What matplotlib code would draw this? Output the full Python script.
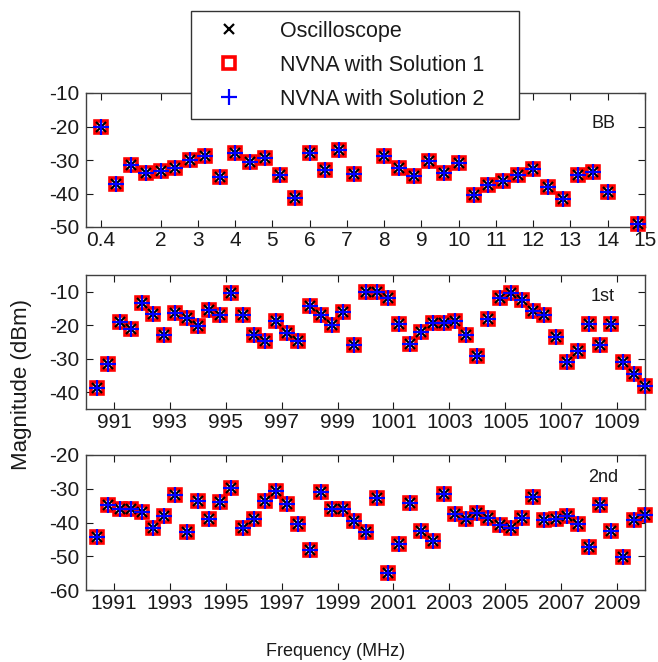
"""
Magnitude of BB / 1st / 2nd harmonic tones: oscilloscope vs NVNA (two solutions).
Output: out.png
"""

import matplotlib
matplotlib.use("Agg")
import matplotlib.pyplot as plt

# ---------- data ----------------------------------------------------------
bb_freq = [0.4, 0.8, 1.2, 1.6, 2.0, 2.4, 2.8, 3.2, 3.6, 4.0, 4.4, 4.8,
           5.2, 5.6, 6.0, 6.4, 6.8, 7.2, 8.0, 8.4, 8.8, 9.2, 9.6, 10.0,
           10.4, 10.8, 11.2, 11.6, 12.0, 12.4, 12.8, 13.2, 13.6, 14.0, 14.8]
bb_db = [-20.0, -37.3, -31.4, -33.9, -33.3, -32.3, -29.9, -28.9, -35.1,
         -27.9, -30.6, -29.4, -34.4, -41.2, -27.9, -32.9, -27.1, -34.3,
         -28.9, -32.3, -34.9, -30.4, -33.9, -30.9, -40.5, -37.4, -36.4,
         -34.4, -32.6, -38.1, -41.5, -34.4, -33.6, -39.6, -49.2]

h1_freq = [990.4, 990.8, 991.2, 991.6, 992.0, 992.4, 992.8, 993.2, 993.6,
           994.0, 994.4, 994.8, 995.2, 995.6, 996.0, 996.4, 996.8, 997.2,
           997.6, 998.0, 998.4, 998.8, 999.2, 999.6, 1000.0, 1000.4,
           1000.8, 1001.2, 1001.6, 1002.0, 1002.4, 1002.8, 1003.2, 1003.6,
           1004.0, 1004.4, 1004.8, 1005.2, 1005.6, 1006.0, 1006.4, 1006.8,
           1007.2, 1007.6, 1008.0, 1008.4, 1008.8, 1009.2, 1009.6, 1010.0]
h1_db = [-38.6, -31.5, -19.0, -21.0, -13.5, -16.5, -23.0, -16.2, -17.8,
         -20.2, -15.5, -17.0, -10.3, -16.8, -23.0, -24.8, -18.8, -22.2,
         -24.8, -14.2, -17.0, -19.8, -16.0, -25.8, -10.0, -10.0, -12.0,
         -19.5, -25.5, -22.0, -19.3, -19.3, -18.7, -22.8, -29.2, -18.0,
         -12.0, -10.3, -12.5, -15.8, -16.8, -23.5, -30.9, -27.7, -19.5,
         -25.8, -19.7, -31.1, -34.7, -38.2]

h2_freq = [1990.4, 1990.8, 1991.2, 1991.6, 1992.0, 1992.4, 1992.8, 1993.2,
           1993.6, 1994.0, 1994.4, 1994.8, 1995.2, 1995.6, 1996.0, 1996.4,
           1996.8, 1997.2, 1997.6, 1998.0, 1998.4, 1998.8, 1999.2, 1999.6,
           2000.0, 2000.4, 2000.8, 2001.2, 2001.6, 2002.0, 2002.4, 2002.8,
           2003.2, 2003.6, 2004.0, 2004.4, 2004.8, 2005.2, 2005.6, 2006.0,
           2006.4, 2006.8, 2007.2, 2007.6, 2008.0, 2008.4, 2008.8, 2009.2,
           2009.6, 2010.0]
h2_db = [-44.3, -34.7, -35.9, -35.9, -36.9, -41.6, -38.2, -31.8, -42.8,
         -33.5, -38.9, -33.8, -29.7, -41.5, -39.1, -33.5, -30.8, -34.5,
         -40.4, -48.2, -31.0, -36.1, -35.9, -39.7, -42.8, -32.8, -55.1,
         -46.3, -34.2, -42.6, -45.6, -31.5, -37.4, -38.9, -37.1, -38.7,
         -40.6, -41.6, -38.7, -32.5, -39.4, -39.1, -38.1, -40.4, -47.2,
         -34.7, -42.6, -50.2, -39.4, -37.7]

# the three measurements overlap at this scale
bb_sol1, bb_sol2 = bb_db, bb_db
h1_sol1, h1_sol2 = h1_db, h1_db
h2_sol1, h2_sol2 = h2_db, h2_db

bb_xticks = [0.4, 2, 3, 4, 5, 6, 7, 8, 9, 10, 11, 12, 13, 14, 15]
bb_xticklabels = ["0.4", "2", "3", "4", "5", "6", "7", "8", "9", "10",
                  "11", "12", "13", "14", "15"]
h1_xticks = [991, 993, 995, 997, 999, 1001, 1003, 1005, 1007, 1009]
h2_xticks = [1991, 1993, 1995, 1997, 1999, 2001, 2003, 2005, 2007, 2009]

# ---------- style ---------------------------------------------------------
TXT = "#1a1a1a"
FS = 15
plt.rcParams.update({"font.family": ["Liberation Sans", "DejaVu Sans"],
                     "font.size": FS, "text.color": TXT,
                     "axes.unicode_minus": False,
                     "axes.edgecolor": "0.25", "axes.linewidth": 1.0,
                     "xtick.color": TXT, "ytick.color": TXT,
                     "xtick.direction": "in", "ytick.direction": "in",
                     "xtick.top": True, "ytick.right": True,
                     "xtick.major.size": 5, "ytick.major.size": 5,
                     "xtick.major.pad": 3, "ytick.major.pad": 5})

W, H = 658, 662
fig = plt.figure(figsize=(W / 100, H / 100), dpi=100)

def ax_at(top_px, bot_px):
    return fig.add_axes([86 / W, 1 - bot_px / H, (645 - 86) / W,
                         (bot_px - top_px) / H])

ax1 = ax_at(93, 227)
ax2 = ax_at(275, 409)
ax3 = ax_at(455, 590)

def draw(ax, f, osc, s1, s2):
    ax.plot(f, s1, ls="none", marker="s", ms=8, mfc="none", mec="#ff0000",
            mew=2.6, clip_on=False, label="NVNA with Solution 1", zorder=3)
    ax.plot(f, osc, ls="none", marker="x", ms=7, mec="black", mew=1.6,
            clip_on=False, label="Oscilloscope", zorder=4)
    ax.plot(f, s2, ls="none", marker="+", ms=11, mec="#0000ff", mew=1.6,
            clip_on=False, label="NVNA with Solution 2", zorder=5)

draw(ax1, bb_freq, bb_db, bb_sol1, bb_sol2)
draw(ax2, h1_freq, h1_db, h1_sol1, h1_sol2)
draw(ax3, h2_freq, h2_db, h2_sol1, h2_sol2)

ax1.set_xlim(0, 15)
ax1.set_ylim(-50, -10)
ax1.set_xticks(bb_xticks)
ax1.set_xticklabels(bb_xticklabels)
ax1.set_yticks([-10, -20, -30, -40, -50])

ax2.set_xlim(990, 1010)
ax2.set_ylim(-45, -5)
ax2.set_xticks(h1_xticks)
ax2.set_yticks([-10, -20, -30, -40])

ax3.set_xlim(1990, 2010)
ax3.set_ylim(-60, -20)
ax3.set_xticks(h2_xticks)
ax3.set_yticks([-20, -30, -40, -50, -60])

for ax, tag, y in [(ax1, "BB", 0.776), (ax2, "1st", 0.836), (ax3, "2nd", 0.83)]:
    ax.text(0.925, y, tag, transform=ax.transAxes, ha="center",
            va="center", fontsize=13)

# ---------- legend & labels -----------------------------------------------
h = ax1.get_legend_handles_labels()[0]
leg = fig.legend([h[1], h[0], h[2]],
                 ["Oscilloscope", "NVNA with Solution 1",
                  "NVNA with Solution 2"],
                 loc="upper left",
                 bbox_to_anchor=(191 / W, 1 - 113 / H, (519 - 191) / W,
                                 (113 - 11) / H),
                 mode="expand", borderaxespad=0, fancybox=False,
                 framealpha=1, edgecolor="0.2", fontsize=15.5,
                 borderpad=0.45, labelspacing=0.6, handlelength=2.6,
                 handletextpad=1.1)
leg.get_frame().set_linewidth(1.0)

fig.text(22 / W, 1 - 385 / H, "Magnitude (dBm)", rotation=90,
         ha="center", va="center", fontsize=16)
fig.text(336 / W, 1 - 652 / H, "Frequency (MHz)", ha="center",
         va="center", fontsize=13)

fig.savefig("out.png", dpi=100)
